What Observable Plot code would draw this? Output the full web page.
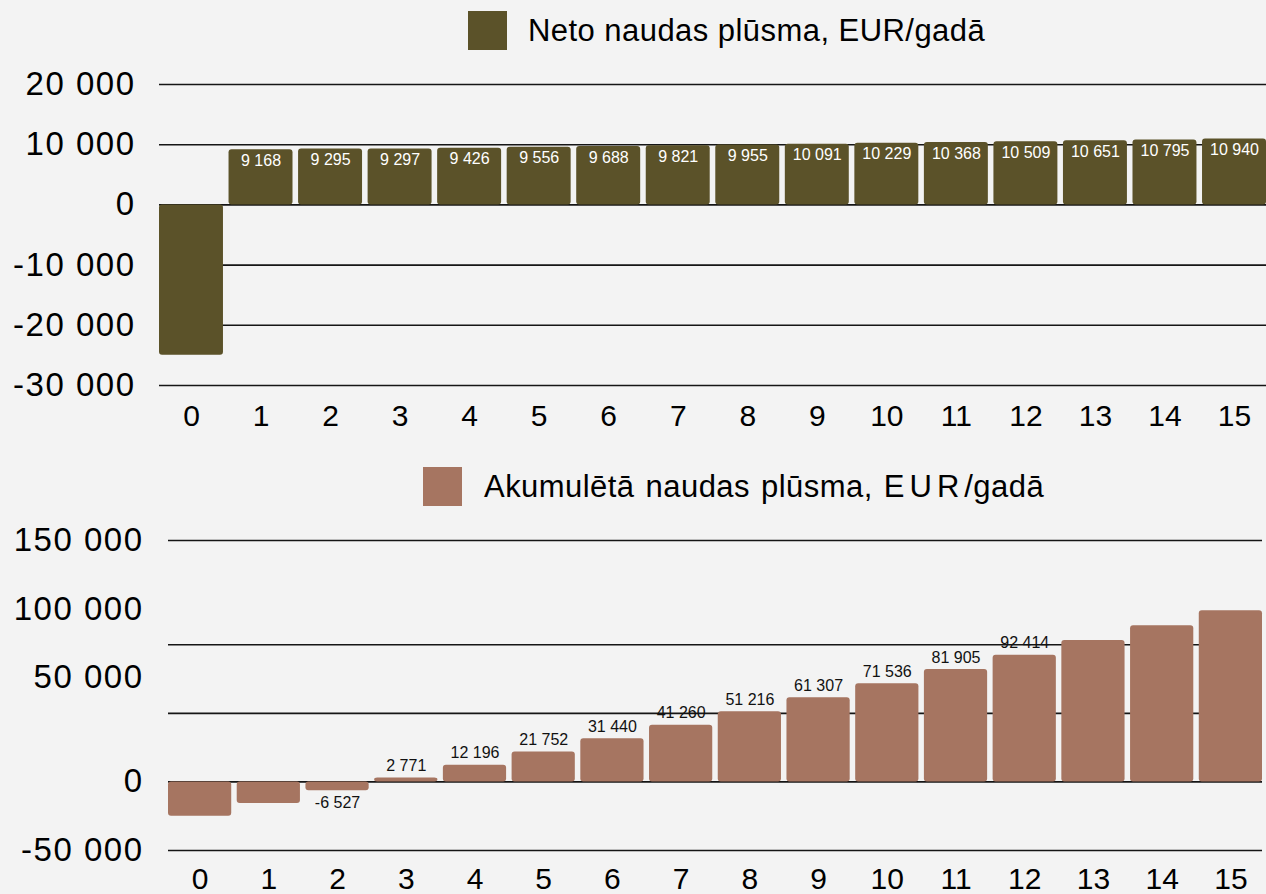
<!DOCTYPE html>
<html>
<head>
<meta charset="utf-8">
<script src="https://cdn.jsdelivr.net/npm/d3@7"></script>
<script src="https://cdn.jsdelivr.net/npm/@observablehq/plot@0.6"></script>
<style>
  html, body { margin: 0; padding: 0; background: #f3f3f3; }
  body { width: 1266px; height: 894px; overflow: hidden; position: relative;
         font-family: "Liberation Sans", Arial, sans-serif; color: #000; }
  .legend { position: absolute; display: flex; align-items: center; height: 40px; }
  .legend .sw { width: 39px; height: 39px; }
  .legend .lbl { font-size: 31px; letter-spacing: 0.45px; margin-left: 21px; line-height: 1; white-space: nowrap; }
  .chart { position: absolute; left: 0; }
  [aria-label="y-axis tick label"] text { letter-spacing: 1.5px; }
</style>
</head>
<body>
<div class="legend" style="left:468px; top:10px;"><div class="sw" id="sw1"></div><div class="lbl" id="t1"></div></div>
<div class="chart" id="c1" style="top:60px;"></div>
<div class="legend" style="left:423px; top:466px;"><div class="sw" id="sw2"></div><div class="lbl" id="t2" style="margin-left:22px; word-spacing:2px;"></div></div>
<div class="chart" id="c2" style="top:515px;"></div>
<script>
// ---- data ----
const years = [0, 1, 2, 3, 4, 5, 6, 7, 8, 9, 10, 11, 12, 13, 14, 15];
const netValues = [-24990, 9168, 9295, 9297, 9426, 9556, 9688, 9821, 9955, 10091, 10229, 10368, 10509, 10651, 10795, 10940];
const cumValues = [-24990, -15822, -6527, 2771, 12196, 21752, 31440, 41260, 51216, 61307, 71536, 81905, 92414, 103065, 113860, 124800];
const netLabeledYears = [1, 2, 3, 4, 5, 6, 7, 8, 9, 10, 11, 12, 13, 14, 15];
const cumLabeledYears = [2, 3, 4, 5, 6, 7, 8, 9, 10, 11, 12];
const topTicks = [-30000, -20000, -10000, 0, 10000, 20000];
const bottomGrid = [-50000, 0, 50000, 100000, 176000];
const bottomTickPos = [-50000, 0, 76000, 126000, 176000];
const bottomTickLabels = ["-50 000", "0", "50 000", "100 000", "150 000"];
const netTitle = "Neto naudas plūsma, EUR/gadā";
const cumTitleParts = ["Akumulētā naudas plūsma, ", "EUR", "/gadā"];

const netColor = "#5b5229";
const cumColor = "#a67561";
const gridColor = "#151515";
const font = "Liberation Sans, Arial, sans-serif";

document.getElementById("sw1").style.background = netColor;
document.getElementById("sw2").style.background = cumColor;
document.getElementById("t1").textContent = netTitle;
{
  const t2 = document.getElementById("t2");
  t2.appendChild(document.createTextNode(cumTitleParts[0]));
  const sp = document.createElement("span");
  sp.style.letterSpacing = "5px";
  sp.textContent = cumTitleParts[1];
  t2.appendChild(sp);
  t2.appendChild(document.createTextNode(cumTitleParts[2]));
}

const fmt = v => (v < 0 ? "-" : "") + String(Math.abs(Math.round(v))).replace(/\B(?=(\d{3})+(?!\d))/g, " ");

const net = years.map((y, i) => ({year: y, value: netValues[i]}));
const cum = years.map((y, i) => ({year: y, value: cumValues[i]}));

const topChart = Plot.plot({
  width: 1266, height: 390,
  marginTop: 24, marginBottom: 65, marginLeft: 159, marginRight: 0,
  style: {background: "transparent", fontFamily: font, fontSize: "33px", color: "#000", overflow: "visible"},
  x: {type: "band", domain: years, paddingInner: 0.08, paddingOuter: 0, round: false, label: null},
  y: {domain: [-30000, 20000], label: null},
  marks: [
    Plot.ruleY(topTicks, {stroke: gridColor, strokeWidth: 1.6}),
    Plot.barY(net, {x: "year", y: "value", fill: netColor, rx: 3}),
    Plot.text(net.filter(d => netLabeledYears.includes(d.year)), {x: "year", y: "value", text: d => fmt(d.value), fill: "white", dy: 11, fontSize: 16}),
    Plot.axisY({ticks: topTicks, tickFormat: fmt, tickSize: 0, tickPadding: 24, fontSize: 33, label: null}),
    Plot.axisX({tickSize: 0, tickPadding: 19, fontSize: 30, label: null})
  ]
});
document.getElementById("c1").appendChild(topChart);

const bottomChart = Plot.plot({
  width: 1266, height: 379,
  marginTop: 25, marginBottom: 44, marginLeft: 168, marginRight: 4,
  style: {background: "transparent", fontFamily: font, fontSize: "33px", color: "#000", overflow: "visible"},
  x: {type: "band", domain: years, paddingInner: 0.08, paddingOuter: 0, round: false, label: null},
  y: {domain: [-50000, 176000], label: null},
  marks: [
    Plot.ruleY(bottomGrid, {stroke: gridColor, strokeWidth: 1.6}),
    Plot.barY(cum, {x: "year", y: "value", fill: cumColor, rx: 3}),
    Plot.text(cum.filter(d => cumLabeledYears.includes(d.year) && d.value >= 0), {x: "year", y: "value", text: d => fmt(d.value), fill: "#111", dy: -12, fontSize: 16}),
    Plot.text(cum.filter(d => cumLabeledYears.includes(d.year) && d.value < 0), {x: "year", y: "value", text: d => fmt(d.value), fill: "#111", dy: 12, fontSize: 16}),
    Plot.axisY({ticks: bottomTickPos, tickFormat: d => bottomTickLabels[bottomTickPos.indexOf(d)], tickSize: 0, tickPadding: 25, fontSize: 33, label: null}),
    Plot.axisX({tickSize: 0, tickPadding: 17, fontSize: 30, label: null})
  ]
});
document.getElementById("c2").appendChild(bottomChart);
</script>
</body>
</html>
